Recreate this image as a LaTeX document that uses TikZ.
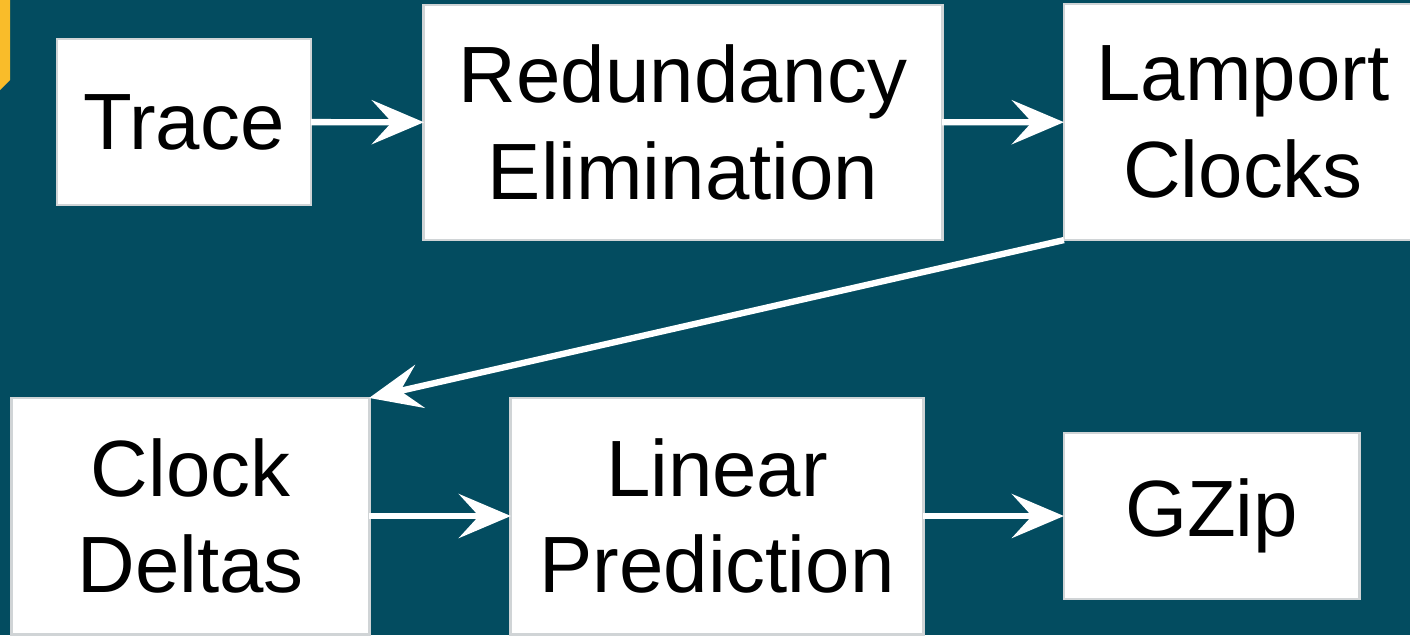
\documentclass[tikz,border=0pt]{standalone}
\usepackage{fontspec}
\setmainfont{Liberation Sans}
\usetikzlibrary{arrows.meta}
\definecolor{slidebg}{HTML}{034C60}
\definecolor{slidegold}{HTML}{F9BC2A}
\definecolor{boxedge}{HTML}{D0D4D6}

\begin{document}
\begin{tikzpicture}[x=0.01cm, y=-0.01cm, font=\fontsize{22.7}{27.5}\selectfont, every node/.style={draw=boxedge, line width=0.8pt, fill=white, align=center, outer sep=0pt, inner sep=0pt}, flow/.style={draw=white, line width=1.8pt, -{Stealth[length=5.2mm, width=4.4mm, inset=2mm]}}]
        \useasboundingbox (0,0) rectangle (1410,635);
        \clip (0,0) rectangle (1410,635);
        \fill[slidebg] (0,0) rectangle (1410,635);
        \fill[slidegold] (0,0) -- (10,0) -- (10,80) -- (0,90) -- cycle;

        % first row
        \node[minimum width=2.54cm, minimum height=1.66cm] (trace) at (184,122) {Trace};
        \node[minimum width=5.18cm, minimum height=2.35cm] (redund) at (683,122.5) {Redundancy\\Elimination};
        \node[minimum width=3.58cm, minimum height=2.36cm] (lamport) at (1243,122) {Lamport\\Clocks};

        % second row
        \node[minimum width=3.57cm, minimum height=2.36cm] (deltas) at (190.5,516) {Clock\\Deltas};
        \node[minimum width=4.12cm, minimum height=2.36cm] (linpred) at (717,516) {Linear\\Prediction};
        \node[minimum width=2.95cm, minimum height=1.66cm] (gzip) at (1211.5,516) {GZip};

        \draw[flow] (trace) -- (redund);
        \draw[flow] (redund) -- (lamport);
        \draw[flow] (lamport.south west) -- (deltas.north east);
        \draw[flow] (deltas) -- (linpred);
        \draw[flow] (linpred) -- (gzip);
    \end{tikzpicture}
\end{document}
